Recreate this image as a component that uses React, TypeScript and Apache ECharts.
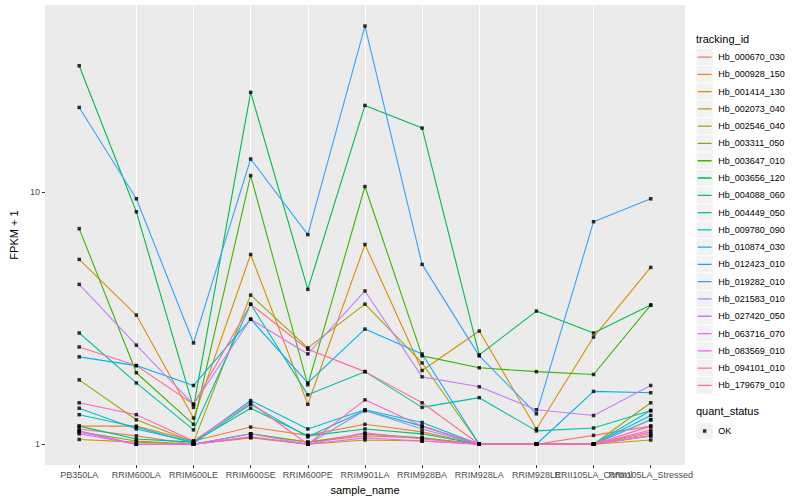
import React, { useEffect, useRef } from "react";
import * as echarts from "echarts";

const categories = [
  "PB350LA",
  "RRIM600LA",
  "RRIM600LE",
  "RRIM600SE",
  "RRIM600PE",
  "RRIM901LA",
  "RRIM928BA",
  "RRIM928LA",
  "RRIM928LE",
  "RRII105LA_Control",
  "RRII105LA_Stressed",
];

const trackingIds = [
  "Hb_000670_030",
  "Hb_000928_150",
  "Hb_001414_130",
  "Hb_002073_040",
  "Hb_002546_040",
  "Hb_003311_050",
  "Hb_003647_010",
  "Hb_003656_120",
  "Hb_004088_060",
  "Hb_004449_050",
  "Hb_009780_090",
  "Hb_010874_030",
  "Hb_012423_010",
  "Hb_019282_010",
  "Hb_021583_010",
  "Hb_027420_050",
  "Hb_063716_070",
  "Hb_083569_010",
  "Hb_094101_010",
  "Hb_179679_010",
];

const colors = [
  "#F8766D", "#EA8331", "#D89000", "#C09B00", "#A3A500",
  "#7CAE00", "#39B600", "#00BB4E", "#00BF7D", "#00C1A3",
  "#00BFC4", "#00BAE0", "#00B0F6", "#35A2FF", "#9590FF",
  "#C77CFF", "#E76BF3", "#FA62DB", "#FF62BC", "#FF6C91",
];

// FPKM + 1 per sample (order of categories)
const hb000670 = [1.15, 1.08, 1.0, 1.1, 1.02, 1.08, 1.06, 1, 1, 1.085, 1.18];
const hb000928 = [1.18, 1.18, 1.03, 1.17, 1.085, 1.2, 1.12, 1, 1, 1, 1.1];
const hb001414 = [5.4, 3.25, 1.27, 5.65, 1.44, 6.19, 1.96, 2.81, 1.15, 2.66, 5.02];
const hb002073 = [1.045, 1.02, 1.0, 1.06, 1.0, 1.04, 1.03, 1, 1, 1, 1.04];
const hb002546 = [1.8, 1.25, 1.02, 3.9, 2.41, 3.59, 2.1, 1, 1, 1, 1.46];
const hb003311 = [1.12, 1.03, 1.0, 1.1, 1.02, 1.1, 1.06, 1, 1, 1, 1.08];
const hb003647 = [7.15, 1.92, 1.2, 11.6, 1.72, 10.5, 2.24, 2.01, 1.94, 1.89, 3.56];
const hb003656 = [31.6, 8.34, 1.4, 24.8, 4.11, 22.0, 17.9, 2.26, 3.37, 2.76, 3.56];
const hb004088 = [1.18, 1.05, 1.02, 1.39, 1.08, 1.15, 1.1, 1, 1, 1, 1.25];
const hb004449 = [2.76, 1.75, 1.14, 3.59, 1.57, 1.94, 1.4, 1.53, 1.13, 1.16, 1.36];
const hb009780 = [1.31, 1.17, 1.01, 1.44, 1.07, 1.36, 1.18, 1, 1, 1, 1.3];
const hb010874 = [1.39, 1.15, 1.02, 1.49, 1.15, 1.37, 1.22, 1, 1, 1, 1.36];
const hb012423 = [2.22, 2.05, 1.71, 3.13, 1.75, 2.86, 2.28, 1, 1, 1.62, 1.6];
const hb019282 = [21.6, 9.39, 2.52, 13.5, 6.77, 45.4, 5.16, 2.24, 1.32, 7.62, 9.39];
const hb021583 = [1.13, 1.0, 1.0, 1.1, 1.0, 1.36, 1.15, 1, 1, 1, 1.25];
const hb027420 = [4.3, 2.47, 1.44, 3.13, 2.28, 4.05, 1.85, 1.69, 1.37, 1.3, 1.71];
const hb063716 = [1.12, 1.0, 1.0, 1.07, 1.0, 1.06, 1.03, 1, 1, 1, 1.08];
const hb083569 = [1.1, 1.0, 1.0, 1.07, 1.0, 1.11, 1.05, 1, 1, 1, 1.12];
const hb094101 = [1.46, 1.31, 1.03, 1.46, 1.0, 1.5, 1.18, 1, 1, 1, 1.18];
const hb179679 = [2.43, 2.05, 1.44, 3.59, 2.38, 1.94, 1.46, 1, 1, 1, 1.14];

const seriesValues = [
  hb000670, hb000928, hb001414, hb002073, hb002546,
  hb003311, hb003647, hb003656, hb004088, hb004449,
  hb009780, hb010874, hb012423, hb019282, hb021583,
  hb027420, hb063716, hb083569, hb094101, hb179679,
];

const yMajorTicks = [1, 10];
const yMinorTicks = [Math.sqrt(10), Math.sqrt(1000)];
const quantStatus = ["OK"];

export default function App() {
  const ref = useRef<HTMLDivElement>(null);

  useEffect(() => {
    const chart = echarts.init(ref.current!, null, { renderer: "svg" });
    const font = "'Liberation Sans', Arial, Helvetica, sans-serif";
    const yMin = 0.827;
    const yMax = 55.0;
    const catIdx = categories.map((_, i) => i);
    const evenIdx = catIdx.filter((i) => i % 2 === 0);
    const oddIdx = catIdx.filter((i) => i % 2 === 1);
    const keySize = 17.28;
    const legendLeft = 696;
    const legendTop = 48.4;

    const lineIcon =
      "path://M0,0L0.01,0L0,0.01Z M1.7,8.0L15.6,8.0L15.6,9.3L1.7,9.3Z M17.28,17.28L17.27,17.28L17.28,17.27Z";
    const pointIcon =
      "path://M0,0L0.01,0L0,0.01Z M6.9,6.9L10.4,6.9L10.4,10.4L6.9,10.4Z M17.28,17.28L17.27,17.28L17.28,17.27Z";

    const lineSeries = trackingIds.map((id, k) => ({
      name: id,
      type: "line",
      data: seriesValues[k].map((v, i) => [i, v]),
      showSymbol: false,
      symbol: "none",
      lineStyle: { color: colors[k], width: 1.1 },
      itemStyle: { color: colors[k] },
      z: 2,
      silent: true,
    }));

    const pointData: number[][] = [];
    seriesValues.forEach((vals) => vals.forEach((v, i) => pointData.push([i, v])));

    const keyBoxes = [
      ...trackingIds.map((_, i) => ({
        type: "rect",
        shape: { x: legendLeft, y: legendTop + i * keySize, width: keySize, height: keySize },
        style: { fill: "#F2F2F2", stroke: "#FFFFFF", lineWidth: 0.8 },
        z: 0,
      })),
      {
        type: "rect",
        shape: { x: legendLeft, y: 422.4, width: keySize, height: keySize },
        style: { fill: "#F2F2F2", stroke: "#FFFFFF", lineWidth: 0.8 },
        z: 0,
      },
    ];

    const labelCommon = {
      showMinLabel: true,
      showMaxLabel: true,
      hideOverlap: false,
      margin: 5,
      fontSize: 9,
      color: "#4D4D4D",
      formatter: (v: number) => categories[Math.round(v)] ?? "",
    };

    const option: any = {
      animation: false,
      backgroundColor: "#FFFFFF",
      textStyle: { fontFamily: font },
      grid: {
        left: 35,
        right: 115,
        top: 5,
        bottom: 32,
        show: true,
        backgroundColor: "#EBEBEB",
        borderWidth: 0,
      },
      xAxis: [
        {
          type: "value",
          min: -0.6,
          max: 10.6,
          position: "bottom",
          name: "sample_name",
          nameLocation: "middle",
          nameGap: 15,
          nameTextStyle: { fontSize: 11, color: "#000000", fontFamily: font },
          axisLine: { show: false, onZero: false },
          axisTick: {
            show: true,
            length: 3,
            customValues: catIdx,
            lineStyle: { color: "#333333", width: 1 },
          },
          axisLabel: { ...labelCommon, customValues: evenIdx },
          splitLine: {
            show: true,
            showMinLine: false,
            showMaxLine: false,
            lineStyle: { color: "#FFFFFF", width: 1.07 },
          },
        },
        {
          type: "value",
          min: -0.6,
          max: 10.6,
          position: "bottom",
          offset: 0,
          axisLine: { show: false, onZero: false },
          axisTick: { show: false, customValues: oddIdx },
          axisLabel: { ...labelCommon, customValues: oddIdx },
          splitLine: { show: false },
        },
      ],
      yAxis: [
        {
          type: "log",
          logBase: 10,
          min: yMin,
          max: yMax,
          position: "left",
          name: "FPKM + 1",
          nameLocation: "middle",
          nameGap: 18,
          nameRotate: 90,
          nameTextStyle: { fontSize: 11, color: "#000000", fontFamily: font },
          axisLine: { show: false, onZero: false },
          axisTick: {
            show: true,
            length: 3,
            customValues: yMajorTicks,
            lineStyle: { color: "#333333", width: 1 },
          },
          axisLabel: {
            customValues: yMajorTicks,
            showMinLabel: true,
            showMaxLabel: true,
            margin: 5,
            fontSize: 9,
            color: "#4D4D4D",
            formatter: (v: number) => String(Math.round(v)),
          },
          splitLine: {
            show: true,
            showMinLine: false,
            showMaxLine: false,
            lineStyle: { color: "#FFFFFF", width: 1.07 },
          },
          z: 1,
        },
        {
          type: "log",
          logBase: Math.sqrt(10),
          min: yMin,
          max: yMax,
          position: "left",
          offset: 0,
          axisLine: { show: false, onZero: false },
          axisTick: { show: false, customValues: yMinorTicks },
          axisLabel: { show: false, customValues: yMinorTicks },
          splitLine: {
            show: true,
            showMinLine: false,
            showMaxLine: false,
            lineStyle: { color: "#FFFFFF", width: 0.53 },
          },
          z: 0,
        },
      ],
      legend: [
        {
          orient: "vertical",
          left: legendLeft,
          top: legendTop,
          padding: 0,
          itemGap: 0,
          itemWidth: keySize,
          itemHeight: keySize,
          selectedMode: false,
          textStyle: { fontSize: 9, color: "#000000", fontFamily: font },
          data: trackingIds.map((id, k) => ({
            name: id,
            icon: lineIcon,
            itemStyle: { color: colors[k], borderWidth: 0 },
          })),
          z: 5,
        },
        {
          orient: "vertical",
          left: legendLeft,
          top: 422.4,
          padding: 0,
          itemGap: 0,
          itemWidth: keySize,
          itemHeight: keySize,
          selectedMode: false,
          textStyle: { fontSize: 9, color: "#000000", fontFamily: font },
          data: quantStatus.map((q) => ({
            name: q,
            icon: pointIcon,
            itemStyle: { color: "#000000", borderWidth: 0 },
          })),
          z: 5,
        },
      ],
      graphic: [
        ...keyBoxes,
        {
          type: "text",
          left: 696,
          top: 33,
          z: 5,
          style: { text: "tracking_id", fontSize: 11, fill: "#000000", fontFamily: font },
        },
        {
          type: "text",
          left: 696,
          top: 405,
          z: 5,
          style: { text: "quant_status", fontSize: 11, fill: "#000000", fontFamily: font },
        },
      ],
      series: [
        ...lineSeries,
        {
          name: quantStatus[0],
          type: "scatter",
          data: pointData,
          symbol: "rect",
          symbolSize: 3.5,
          itemStyle: { color: "#000000" },
          z: 3,
          silent: true,
        },
      ],
    };

    chart.setOption(option);
    return () => chart.dispose();
  }, []);

  return (
    <div
      ref={ref}
      style={{ position: "fixed", left: 0, top: 0, width: 800, height: 500 }}
    />
  );
}
